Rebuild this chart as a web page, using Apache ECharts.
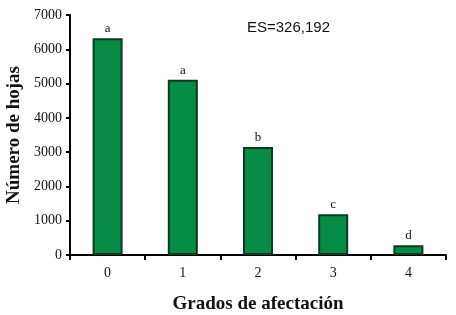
<!DOCTYPE html>
<html>
<head>
<meta charset="utf-8">
<script src="https://cdn.jsdelivr.net/npm/echarts@6/dist/echarts.min.js"></script>
<style>
  html, body { margin: 0; padding: 0; background: #fff; }
  #myChart { width: 456px; height: 315px; }
</style>
</head>
<body>
<div id="myChart"></div>
<script>
// datos
var grados = ['0', '1', '2', '3', '4'];
var hojas = [6320, 5110, 3150, 1190, 285];
var letras = ['a', 'a', 'b', 'c', 'd'];
var yTicks = [0, 1000, 2000, 3000, 4000, 5000, 6000, 7000];

var chart = echarts.init(document.getElementById('myChart'));
var serif = '"Liberation Serif", "DejaVu Serif", serif';

var option = {
    animation: false,
    grid: { left: 70, right: 10, top: 15, bottom: 60, outerBoundsMode: 'none', containLabel: false },
    graphic: [{
        type: 'text',
        left: 247,
        top: 20,
        style: {
            text: 'ES=326,192',
            font: '15px "Liberation Sans", Arial, sans-serif',
            fill: '#111'
        }
    }],
    xAxis: {
        type: 'category',
        data: grados,
        name: 'Grados de afectación',
        nameLocation: 'middle',
        nameGap: 40,
        nameTextStyle: { fontFamily: serif, fontWeight: 'bold', fontSize: 19, color: '#111' },
        axisLine: { lineStyle: { color: '#000', width: 2 } },
        axisTick: { show: true, length: 5, lineStyle: { color: '#000', width: 2 } },
        axisLabel: { fontFamily: serif, fontSize: 14, color: '#111', margin: 11 }
    },
    yAxis: {
        type: 'value',
        min: yTicks[0],
        max: yTicks[yTicks.length - 1],
        interval: 1000,
        name: 'Número de hojas',
        nameLocation: 'middle',
        nameGap: 41,
        nameTextStyle: { fontFamily: serif, fontWeight: 'bold', fontSize: 19, color: '#111' },
        axisLine: { show: true, lineStyle: { color: '#000', width: 2 } },
        axisTick: { show: true, length: 4, lineStyle: { color: '#000', width: 2 } },
        axisLabel: {
            fontFamily: serif, fontSize: 14, color: '#111', margin: 8,
            formatter: function (v) { return String(v); }
        },
        splitLine: { show: false }
    },
    series: [{
        type: 'bar',
        data: hojas,
        barWidth: 30,
        itemStyle: { color: '#078c45', borderColor: '#0c3a1f', borderWidth: 2 },
        label: {
            show: true,
            position: 'top',
            distance: 3,
            fontFamily: serif,
            fontSize: 13,
            color: '#111',
            formatter: function (p) { return letras[p.dataIndex]; }
        }
    }]
};
chart.setOption(option);
</script>
</body>
</html>
